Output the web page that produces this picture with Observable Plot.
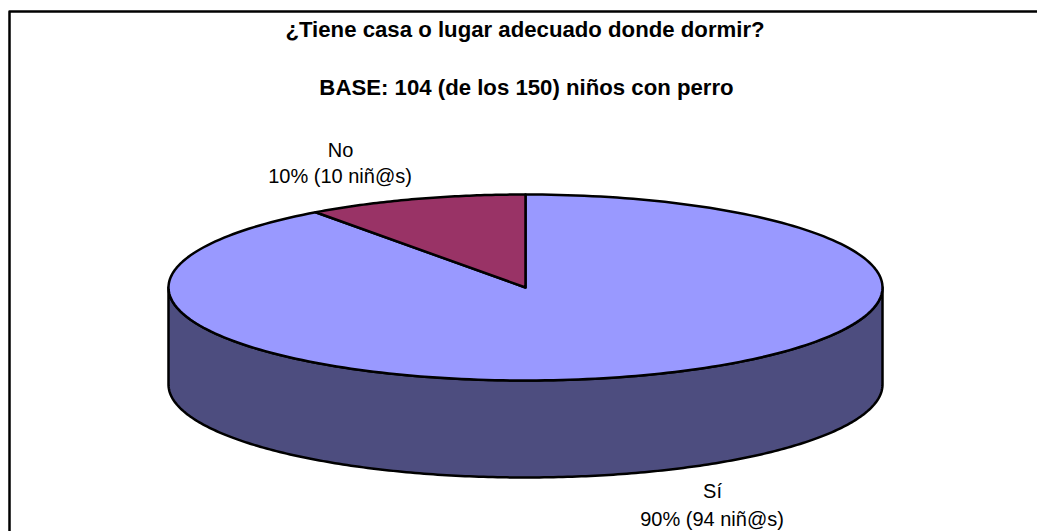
<!DOCTYPE html>
<html><head><meta charset="utf-8">
<script src="https://cdn.jsdelivr.net/npm/d3@7"></script>
<script src="https://cdn.jsdelivr.net/npm/@observablehq/plot@0.6"></script>
<style>html,body{margin:0;padding:0;background:#fff;overflow:hidden}svg{display:block}</style>
</head><body><div id="chart"></div>
<script>
const categories = ["Sí", "No"];
const percents = [90, 10];
const counts = [94, 10];
const sliceColors = ["#9999ff", "#993366"];
const sideColor = "#4d4d7f";
const titleLines = ["¿Tiene casa o lugar adecuado donde dormir?", "BASE: 104 (de los 150) niños con perro"];

const W = 1037, H = 531;
const cx = 525, cy = 287, rx = 357, ry = 93, depth = 97;
const x = {type: "linear", domain: [0, W], range: [0, W]};
const y = {type: "linear", domain: [0, H], range: [0, H]};
const px = a => cx + rx * Math.sin(a);
const py = a => cy - ry * Math.cos(a);

const total = d3.sum(percents);
const noStart = 2 * Math.PI * (1 - percents[1] / total);
const arc = (a0, a1, n = 240) => d3.range(n + 1).map(i => a0 + (a1 - a0) * i / n);
const centre = {x: cx, y: cy};
const pt = a => ({x: px(a), y: py(a)});

const siSlice = [centre, ...arc(0, noStart).map(pt), centre];
const noSlice = [centre, ...arc(noStart, 2 * Math.PI, 60).map(pt), centre];
const frontArc = arc(Math.PI / 2, 3 * Math.PI / 2);
const side = [...frontArc.map(pt), ...frontArc.slice().reverse().map(a => ({x: px(a), y: py(a) + depth}))];
side.push(side[0]);

const border = [{x: 9, y: 545}, {x: 9, y: 11}, {x: 1050, y: 11}];
const font = "Liberation Sans, Arial, sans-serif";
const boldTexts = [
  {x: 524.5, y: 29, t: titleLines[0]},
  {x: 526, y: 87, t: titleLines[1]}
];
const plainTexts = [
  {x: 340, y: 150, t: categories[1]},
  {x: 339.5, y: 176, t: `${percents[1]}% (${counts[1]} niñ@s)`},
  {x: 712, y: 491, t: categories[0]},
  {x: 711.5, y: 519, t: `${percents[0]}% (${counts[0]} niñ@s)`}
];
const poly = (data, fill, sw = 2.5) => Plot.line(data, {x: "x", y: "y", fill, stroke: "#000", strokeWidth: sw, curve: "linear", strokeLinejoin: "round"});

const plot = Plot.plot({
  width: W, height: H, margin: 0, x: {...x, axis: null}, y: {...y, axis: null},
  style: {background: "#fff", fontFamily: font},
  marks: [
    Plot.line(border, {x: "x", y: "y", stroke: "#000", strokeWidth: 2.5, clip: true}),
    poly(side, sideColor),
    poly(siSlice, sliceColors[0]),
    poly(noSlice, sliceColors[1]),
    Plot.text(boldTexts, {x: "x", y: "y", text: "t", fontWeight: "bold", fontSize: 22.2, fill: "#000", fontFamily: font}),
    Plot.text(plainTexts, {x: "x", y: "y", text: "t", fontSize: 20, fill: "#000", fontFamily: font})
  ]
});
document.getElementById("chart").append(plot);
</script></body></html>
